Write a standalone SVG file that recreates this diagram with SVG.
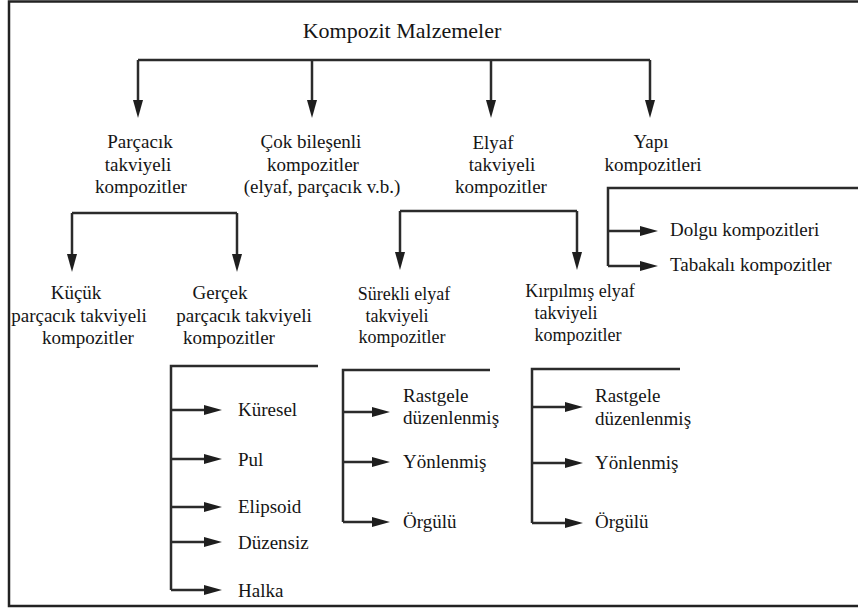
<svg xmlns="http://www.w3.org/2000/svg" width="858" height="612" viewBox="0 0 858 612">
<defs>
<marker id="ah" markerUnits="userSpaceOnUse" markerWidth="18" markerHeight="10" refX="8" refY="5" orient="auto">
<path d="M0,0 L18,5 L0,10 z" fill="#1e1e1e"/>
</marker>
<style>
text{font-family:"Liberation Serif","Times New Roman",serif;fill:#151515;}
.t{font-size:22px;text-anchor:middle;}
.n{font-size:19px;text-anchor:middle;}
.m{font-size:18px;text-anchor:middle;}
.i{font-size:19px;}
.ln{fill:none;stroke:#2b2b2b;stroke-width:2.5;}
.ar{fill:none;stroke:#2b2b2b;stroke-width:2.5;marker-end:url(#ah);}
.fr{fill:none;stroke:#222;stroke-width:2.5;}
</style>
</defs>
<rect width="858" height="612" fill="#fff"/>
<path class="fr" d="M858,1.5 H9 V606 H858"/>

<g id="connectors">
<path class="ln" d="M138,60 H650"/>
<path class="ar" d="M138,60 V108"/>
<path class="ar" d="M312,60 V108"/>
<path class="ar" d="M491,60 V108"/>
<path class="ar" d="M650,60 V108"/>

<path class="ln" d="M72,213 H237"/>
<path class="ar" d="M72,213 V262"/>
<path class="ar" d="M237,213 V262"/>

<path class="ln" d="M400,211 H577"/>
<path class="ar" d="M400,211 V260"/>
<path class="ar" d="M577,211 V260"/>

<path class="ln" d="M858,188 H608 V266"/>
<path class="ar" d="M608,231 H648"/>
<path class="ar" d="M608,266 H648"/>

<path class="ln" d="M318,366 H171 V590"/>
<path class="ar" d="M171,410 H212"/>
<path class="ar" d="M171,459 H212"/>
<path class="ar" d="M171,507 H212"/>
<path class="ar" d="M171,542 H212"/>
<path class="ar" d="M171,590 H212"/>

<path class="ln" d="M490,370 H343 V522"/>
<path class="ar" d="M343,412 H380"/>
<path class="ar" d="M343,462 H380"/>
<path class="ar" d="M343,522 H380"/>

<path class="ln" d="M680,369 H532 V523"/>
<path class="ar" d="M532,407 H573"/>
<path class="ar" d="M532,463 H573"/>
<path class="ar" d="M532,523 H573"/>
</g>

<g id="root"><text class="t" x="402" y="38">Kompozit Malzemeler</text></g>

<g id="parcacik">
<text class="n" x="140" y="148">Parçacık</text>
<text class="n" x="138" y="171">takviyeli</text>
<text class="n" x="141" y="193">kompozitler</text>
</g>
<g id="cok">
<text class="n" x="311" y="148">Çok bileşenli</text>
<text class="n" x="313" y="171">kompozitler</text>
<text class="n" x="322" y="193">(elyaf, parçacık v.b.)</text>
</g>
<g id="elyaf">
<text class="n" x="493" y="149">Elyaf</text>
<text class="n" x="502" y="171">takviyeli</text>
<text class="n" x="501" y="193">kompozitler</text>
</g>
<g id="yapi">
<text class="n" x="651" y="148">Yapı</text>
<text class="n" x="653" y="171">kompozitleri</text>
</g>

<g id="kucuk">
<text class="n" x="76" y="299">Küçük</text>
<text class="n" x="79" y="322">parçacık takviyeli</text>
<text class="n" x="88" y="344">kompozitler</text>
</g>
<g id="gercek">
<text class="n" x="220" y="299">Gerçek</text>
<text class="n" x="244" y="322">parçacık takviyeli</text>
<text class="n" x="229" y="344">kompozitler</text>
</g>
<g id="surekli">
<text class="m" x="404" y="300">Sürekli elyaf</text>
<text class="m" x="397" y="322">takviyeli</text>
<text class="m" x="402" y="343">kompozitler</text>
</g>
<g id="kirpilmis">
<text class="m" x="580" y="297">Kırpılmış elyaf</text>
<text class="m" x="566" y="319">takviyeli</text>
<text class="m" x="578" y="341">kompozitler</text>
</g>

<g id="dolgu"><text class="i" x="670" y="236">Dolgu kompozitleri</text></g>
<g id="tabakali"><text class="i" x="670" y="271">Tabakalı kompozitler</text></g>

<g id="kuresel"><text class="i" x="238" y="416">Küresel</text></g>
<g id="pul"><text class="i" x="238" y="466">Pul</text></g>
<g id="elipsoid"><text class="i" x="238" y="513">Elipsoid</text></g>
<g id="duzensiz"><text class="i" x="238" y="549">Düzensiz</text></g>
<g id="halka"><text class="i" x="238" y="597">Halka</text></g>

<g id="s-rastgele">
<text class="i" x="403" y="402">Rastgele</text>
<text class="i" x="403" y="424">düzenlenmiş</text>
</g>
<g id="s-yonlenmis"><text class="i" x="403" y="468">Yönlenmiş</text></g>
<g id="s-orgulu"><text class="i" x="403" y="528">Örgülü</text></g>

<g id="k-rastgele">
<text class="i" x="595" y="402">Rastgele</text>
<text class="i" x="595" y="425">düzenlenmiş</text>
</g>
<g id="k-yonlenmis"><text class="i" x="595" y="469">Yönlenmiş</text></g>
<g id="k-orgulu"><text class="i" x="595" y="528">Örgülü</text></g>
</svg>
